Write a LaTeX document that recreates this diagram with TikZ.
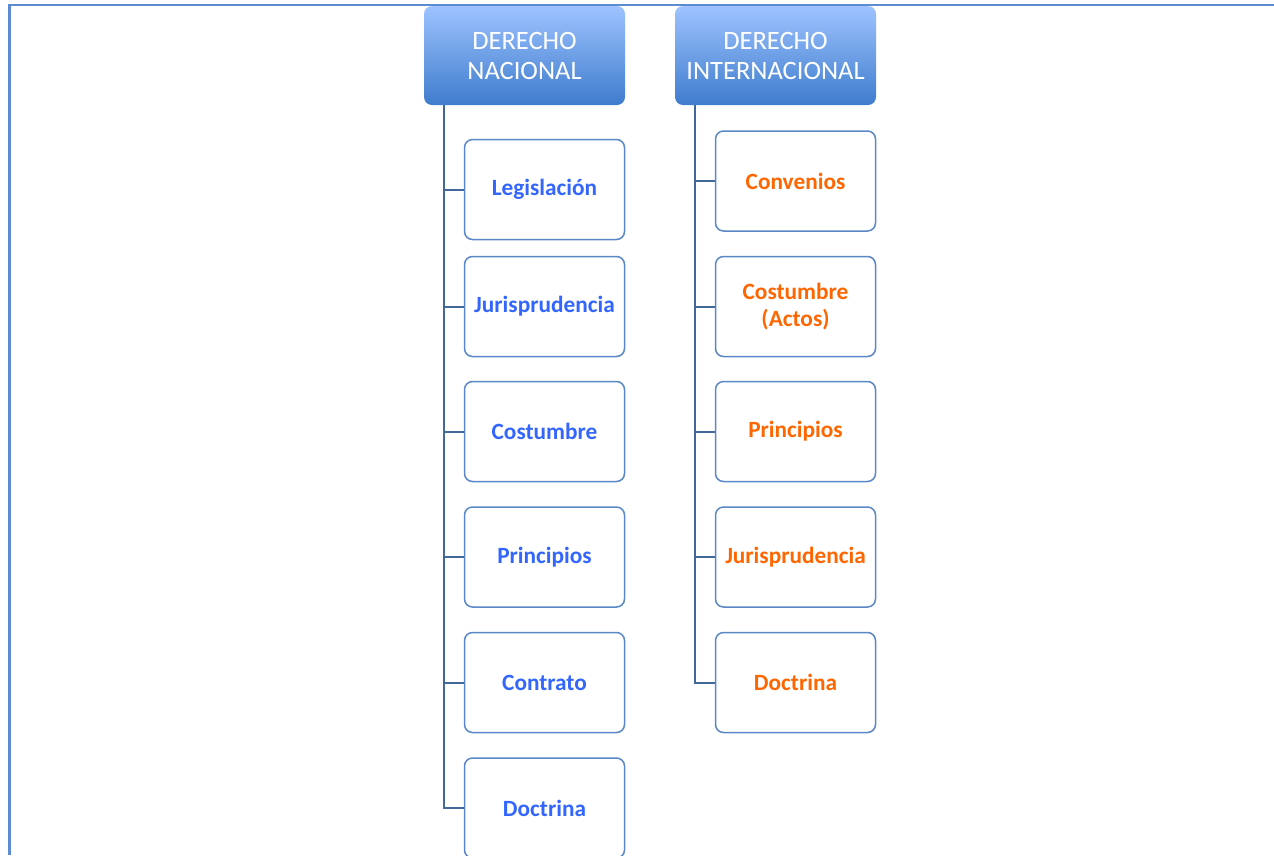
\documentclass[tikz,border=0pt]{standalone}
\usepackage{fontspec}
\setmainfont{Carlito}
\usepackage{xcolor}
\usepackage{tikz}
\usetikzlibrary{positioning}

\definecolor{framecol}{HTML}{5B8BD0}
\definecolor{headtop}{HTML}{9EC3FF}
\definecolor{headbot}{HTML}{3E7CCD}
\definecolor{boxline}{HTML}{5A87C6}
\definecolor{linkcol}{HTML}{41679B}
\definecolor{natcol}{HTML}{3366FF}
\definecolor{intcol}{HTML}{FF6600}

\tikzset{
  head/.style={rectangle,rounded corners=8pt,minimum width=201pt,minimum height=99pt,
    top color=headtop,bottom color=headbot,text=white,align=center,
    font=\fontsize{26.5}{30}\selectfont},
  item/.style={rectangle,rounded corners=8pt,draw=boxline,line width=1.5pt,fill=white,
    minimum width=160pt,minimum height=100pt,align=center,
    font=\fontsize{23.3}{27}\selectfont\bfseries},
  nat/.style={item,text=natcol},
  int/.style={item,text=intcol},
  link/.style={draw=linkcol,line width=2pt}
}

\begin{document}
\begin{tikzpicture}[x=1pt,y=-1pt]

\clip (0,0) rectangle (1274,855) ;

% frame
\draw[framecol,line width=2.2pt] (9.5,855) -- (9.5,5) -- (1274,5) ;

% headers
\node[head] (dn) at (524.5,55.5) {DERECHO\\NACIONAL} ;
\node[head] (di) at (775.5,55.5) {DERECHO\\INTERNACIONAL} ;

% derecho nacional
\node[nat] (legis) at (544.5,189.5) {Legislación} ;
\node[nat] (juris) at (544.5,306.5) {Jurisprudencia} ;
\node[nat] (cost) at (544.5,431.5) {Costumbre} ;
\node[nat] (princ) at (544.5,557) {Principios} ;
\node[nat] (contr) at (544.5,682.5) {Contrato} ;
\node[nat] (doct) at (544.5,808) {Doctrina} ;

% derecho internacional
\node[int] (conv) at (795.5,181) {Convenios} ;
\node[int] (icost) at (795.5,306.5) {Costumbre\\(Actos)} ;
\node[int] (iprinc) at (795.5,431.5) {Principios} ;
\node[int] (ijuris) at (795.5,557) {Jurisprudencia} ;
\node[int] (idoct) at (795.5,682.5) {Doctrina} ;

\coordinate (dnl) at (444,105) ;
\coordinate (dil) at (695,105) ;

\draw[link] (dnl) |- (doct.west) ;
\draw[link] (dnl |- legis.west) -- (legis.west) ;
\draw[link] (dnl |- juris.west) -- (juris.west) ;
\draw[link] (dnl |- cost.west) -- (cost.west) ;
\draw[link] (dnl |- princ.west) -- (princ.west) ;
\draw[link] (dnl |- contr.west) -- (contr.west) ;

\draw[link] (dil) |- (idoct.west) ;
\draw[link] (dil |- conv.west) -- (conv.west) ;
\draw[link] (dil |- icost.west) -- (icost.west) ;
\draw[link] (dil |- iprinc.west) -- (iprinc.west) ;
\draw[link] (dil |- ijuris.west) -- (ijuris.west) ;

\end{tikzpicture}
\end{document}
